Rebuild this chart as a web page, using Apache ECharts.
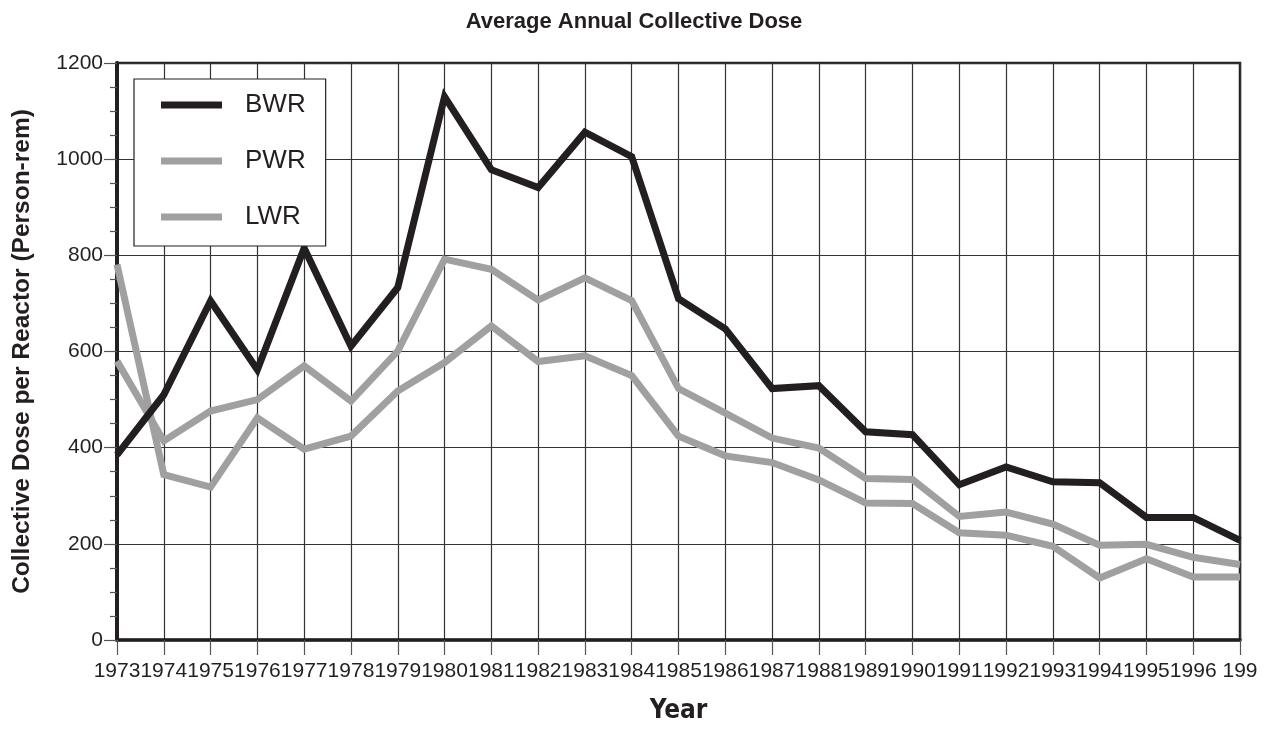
<!DOCTYPE html>
<html>
<head>
<meta charset="utf-8">
<script src="https://cdn.jsdelivr.net/npm/echarts@6/dist/echarts.min.js"></script>
<style>
html,body{margin:0;padding:0;background:#fff;}
#chart{width:1268px;height:729px;}
</style>
</head>
<body>
<div id="chart"></div>
<script>
var years = ['1973','1974','1975','1976','1977','1978','1979','1980','1981','1982','1983','1984','1985','1986','1987','1988','1989','1990','1991','1992','1993','1994','1995','1996','1997'];
var yearLabels = ['1973','1974','1975','1976','1977','1978','1979','1980','1981','1982','1983','1984','1985','1986','1987','1988','1989','1990','1991','1992','1993','1994','1995','1996','199'];
var yTicks = [0, 200, 400, 600, 800, 1000, 1200];
var bwr = [385,510,705,562,815,611,733,1130,978,941,1056,1005,710,647,523,529,433,427,323,360,329,327,255,255,207];
var pwr = [781,344,318,462,397,424,518,577,653,579,591,550,424,383,369,333,285,284,223,218,195,129,169,131,131];
var lwr = [580,414,476,500,570,497,601,792,771,707,753,706,523,472,420,399,336,334,257,266,241,197,199,172,157];
var seriesNames = ['BWR','PWR','LWR'];
var titleText = 'Average Annual Collective Dose';
var xName = 'Year';
var yName = 'Collective Dose per Reactor (Person-rem)';

var ink = '#231f20';
var gray = '#a0a0a0';
var font = '"Liberation Sans", Arial, Helvetica, sans-serif';
var narrow = '"Liberation Sans Narrow", "DejaVu Sans Condensed", "Liberation Sans", sans-serif';

var chart = echarts.init(document.getElementById('chart'), null, {renderer:'canvas'});
chart.setOption({
  animation: false,
  backgroundColor: '#ffffff',
  title: {
    text: titleText, left: 'center', top: 11, padding: 0,
    textStyle: {fontFamily: font, fontWeight: 'bold', fontSize: 22, color: ink}
  },
  legend: {
    orient: 'vertical', left: 134, top: 79,
    padding: [13, 20, 16, 27],
    backgroundColor: '#ffffff', borderColor: ink, borderWidth: 1.2,
    icon: 'rect', itemWidth: 61, itemHeight: 7, itemGap: 30,
    textStyle: {fontFamily: font, fontSize: 26, color: ink, lineHeight: 26, padding: [0,0,0,18]},
    data: seriesNames
  },
  grid: {
    left: 117, right: 28, top: 63, bottom: 89,
    containLabel: false, outerBoundsMode: 'none',
    show: true, borderColor: ink, borderWidth: 2.5, backgroundColor: 'transparent'
  },
  xAxis: {
    type: 'category', data: years, boundaryGap: false,
    name: xName, nameLocation: 'middle', nameGap: 58,
    nameTextStyle: {fontFamily: narrow, fontWeight: 'bold', fontSize: 26, color: ink},
    axisLine: {lineStyle: {color: ink, width: 3.5}},
    axisTick: {show: true, length: 15, alignWithLabel: true, lineStyle: {color: '#555', width: 1.2}},
    axisLabel: {interval: 0, margin: 21, fontFamily: font, fontSize: 21, color: ink,
      formatter: function (v, i) { return yearLabels[i]; }},
    splitLine: {show: true, interval: 0, lineStyle: {color: '#333', width: 1.2}}
  },
  yAxis: {
    type: 'value', min: yTicks[0], max: yTicks[yTicks.length - 1], interval: 200,
    name: yName, nameLocation: 'middle', nameGap: 82, nameRotate: 90,
    nameTextStyle: {fontFamily: font, fontWeight: 'bold', fontSize: 24.5, color: ink},
    axisLine: {show: true, lineStyle: {color: ink, width: 4}},
    axisTick: {show: true, length: 13, lineStyle: {color: '#555', width: 1.2}},
    minorTick: {show: true, splitNumber: 4, length: 7, lineStyle: {color: '#555', width: 1.2}},
    axisLabel: {margin: 14, fontFamily: font, fontSize: 21, color: ink,
      formatter: function (v) { return String(v); }},
    splitLine: {show: true, lineStyle: {color: '#333', width: 1.2}}
  },
  series: [
    {name: seriesNames[1], type: 'line', data: pwr, showSymbol: false, z: 2,
     itemStyle: {color: gray}, lineStyle: {color: gray, width: 7, join: 'miter'}},
    {name: seriesNames[2], type: 'line', data: lwr, showSymbol: false, z: 2,
     itemStyle: {color: gray}, lineStyle: {color: gray, width: 7, join: 'miter'}},
    {name: seriesNames[0], type: 'line', data: bwr, showSymbol: false, z: 3,
     itemStyle: {color: ink}, lineStyle: {color: ink, width: 7, join: 'miter'}}
  ]
});
</script>
</body>
</html>
